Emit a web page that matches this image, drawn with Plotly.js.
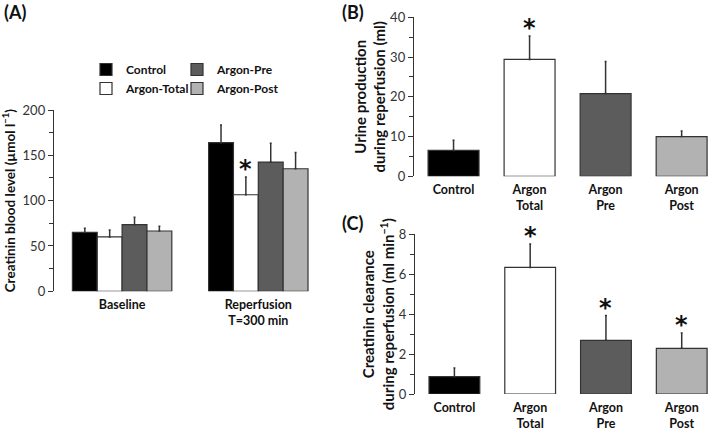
<!DOCTYPE html>
<html>
<head>
<meta charset="utf-8">
<script src="https://cdn.plot.ly/plotly-3.0.1.min.js"></script>
<style>html,body{margin:0;padding:0;background:#fff}#chart{width:709px;height:430px}</style>
</head>
<body>
<div id="chart"></div>
<script>
// ---------- data ----------
// Panel A: creatinin blood level (µmol/l)
const groupsA = ['Baseline', 'Reperfusion<br>T=300 min'];
const seriesNames = ['Control', 'Argon-Total', 'Argon-Pre', 'Argon-Post'];
const creatControl = [65, 164];
const creatControlErr = [4.5, 19.4];
const creatTotal = [60, 106.5];
const creatTotalErr = [7.5, 19.5];
const creatPre = [73.5, 142.6];
const creatPreErr = [8.2, 20.6];
const creatPost = [66.5, 135.2];
const creatPostErr = [5.2, 18.0];
const sigA = [{series: 'Argon-Total', group: 1}];

// Panels B and C
const groupsBC = ['Control', 'Argon<br>Total', 'Argon<br>Pre', 'Argon<br>Post'];
const urine = [6.5, 29.4, 20.8, 10.0];
const urineErr = [2.6, 5.9, 8.1, 1.4];
const sigB = [1];
const clearance = [0.87, 6.34, 2.69, 2.29];
const clearanceErr = [0.43, 1.17, 1.24, 0.77];
const sigC = [1, 2, 3];

// ---------- styling ----------
const colors = ['#000000', '#ffffff', '#5c5c5c', '#b2b2b2'];
const edge = '#333333';
const FONT = 'Lato, "Open Sans", sans-serif';
const W = 709, H = 430;
const fx = p => p / W;
const fy = p => 1 - p / H;

const seriesA = [
  [creatControl, creatControlErr],
  [creatTotal, creatTotalErr],
  [creatPre, creatPreErr],
  [creatPost, creatPostErr]
];

const traces = [];
seriesNames.forEach((name, i) => {
  traces.push({
    type: 'bar', name: name,
    x: [0, 1], y: seriesA[i][0],
    xaxis: 'x', yaxis: 'y',
    marker: {color: colors[i], line: {color: edge, width: 1.2}},
    error_y: {type: 'data', symmetric: false, array: seriesA[i][1],
              arrayminus: seriesA[i][1].map(() => 0),
              color: edge, thickness: 1.5, width: 1},
    legend: (i === 0 || i === 1) ? 'legend' : 'legend2',
    legendgroup: 'g' + i,
    hoverinfo: 'skip'
  });
});

function single(vals, errs, xa, ya) {
  return {
    type: 'bar', x: [0, 1, 2, 3], y: vals, width: 0.67,
    xaxis: xa, yaxis: ya, showlegend: false,
    marker: {color: colors, line: {color: edge, width: 1.2}},
    error_y: {type: 'data', symmetric: false, array: errs,
              arrayminus: errs.map(() => 0),
              color: edge, thickness: 1.5, width: 1},
    hoverinfo: 'skip'
  };
}
traces.push(single(urine, urineErr, 'x2', 'y2'));
traces.push(single(clearance, clearanceErr, 'x3', 'y3'));

// significance stars
const annotations = [];
const star = (xref, yref, x, y) => ({
  xref: xref, yref: yref, x: x, y: y, text: '*', showarrow: false,
  yanchor: 'middle', font: {family: '"DejaVu Sans", sans-serif', size: 24, color: '#111', weight: 'bold'}, yshift: 8
});
const nGroup = seriesNames.length;
sigA.forEach(s => {
  const k = seriesNames.indexOf(s.series);
  const off = (k - (nGroup - 1) / 2) * (0.73 / nGroup);
  annotations.push(star('x', 'y', s.group + off, seriesA[k][0][s.group] + seriesA[k][1][s.group]));
});
sigB.forEach(i => annotations.push(star('x2', 'y2', i, urine[i] + urineErr[i])));
sigC.forEach(i => annotations.push(star('x3', 'y3', i, clearance[i] + clearanceErr[i])));

// panel letters
[['(A)', 2, 12], ['(B)', 340, 12], ['(C)', 340, 223]].forEach(p => {
  annotations.push({xref: 'paper', yref: 'paper', x: fx(p[1]), y: fy(p[2]),
    xanchor: 'left', yanchor: 'middle', text: '<b>' + p[0] + '</b>', showarrow: false,
    font: {family: FONT, size: 18, color: '#111'}});
});

const tickFont = {family: FONT, size: 13, color: '#333'};
const catFont = {family: FONT, size: 12.5, color: '#111', weight: 'bold'};

function yax(domain, range, dtick, minor, title, standoff, tsize) {
  return {
    domain: domain, range: range, dtick: dtick, tick0: 0,
    ticks: 'outside', ticklen: 5, tickcolor: edge, tickwidth: 1,
    minor: {dtick: minor, tick0: 0, ticks: 'outside', ticklen: 4, tickcolor: edge, tickwidth: 1, showgrid: false},
    showline: true, linecolor: edge, linewidth: 1.2,
    showgrid: false, zeroline: false, tickfont: tickFont,
    title: {text: title, font: {family: FONT, size: tsize, color: '#111', weight: 'bold'}, standoff: standoff},
    fixedrange: true
  };
}
function xax(domain, range, ticks, anchor) {
  return {
    domain: domain, range: range, anchor: anchor,
    tickmode: 'array', tickvals: ticks.map((_, i) => i), ticktext: ticks,
    ticks: '', showline: false, showgrid: false, zeroline: false,
    tickfont: catFont, ticklabelstandoff: 4, fixedrange: true
  };
}

const legendStyle = {
  xanchor: 'left', yanchor: 'top', bgcolor: 'rgba(0,0,0,0)',
  font: {family: FONT, size: 12, color: '#111', weight: 'bold'},
  tracegroupgap: 4, traceorder: 'normal'
};

const layout = {
  width: W, height: H,
  margin: {l: 0, r: 0, t: 0, b: 0},
  paper_bgcolor: '#fff', plot_bgcolor: 'rgba(0,0,0,0)',
  font: {family: FONT, color: '#111'},
  barmode: 'group', bargap: 0.27, bargroupgap: 0,
  xaxis: xax([fx(54), fx(326.4)], [-0.5, 1.5], groupsA, 'y'),
  yaxis: Object.assign(yax([fy(291.3), fy(110)], [0, 200], 50, 25,
    'Creatinin blood level (µmol l<sup>−1</sup>)', 5, 13.5), {anchor: 'x'}),
  xaxis2: xax([fx(414), 1], [-0.52, 3.36], groupsBC, 'y2'),
  yaxis2: Object.assign(yax([fy(176.3), fy(17.3)], [0, 40], 10, 5,
    'Urine production<br>during reperfusion (ml)', 0, 15), {anchor: 'x2'}),
  xaxis3: xax([fx(415), 1], [-0.52, 3.36], groupsBC, 'y3'),
  yaxis3: Object.assign(yax([fy(394), fy(234.3)], [0, 8], 2, 1,
    'Creatinin clearance<br>during reperfusion (ml min<sup>−1</sup>)', 0, 15), {anchor: 'x3'}),
  legend: Object.assign({x: fx(86), y: fy(55)}, legendStyle),
  legend2: Object.assign({x: fx(177), y: fy(55)}, legendStyle),
  annotations: annotations,
  showlegend: true
};

Plotly.newPlot('chart', traces, layout, {staticPlot: true, displayModeBar: false});
</script>
</body>
</html>
